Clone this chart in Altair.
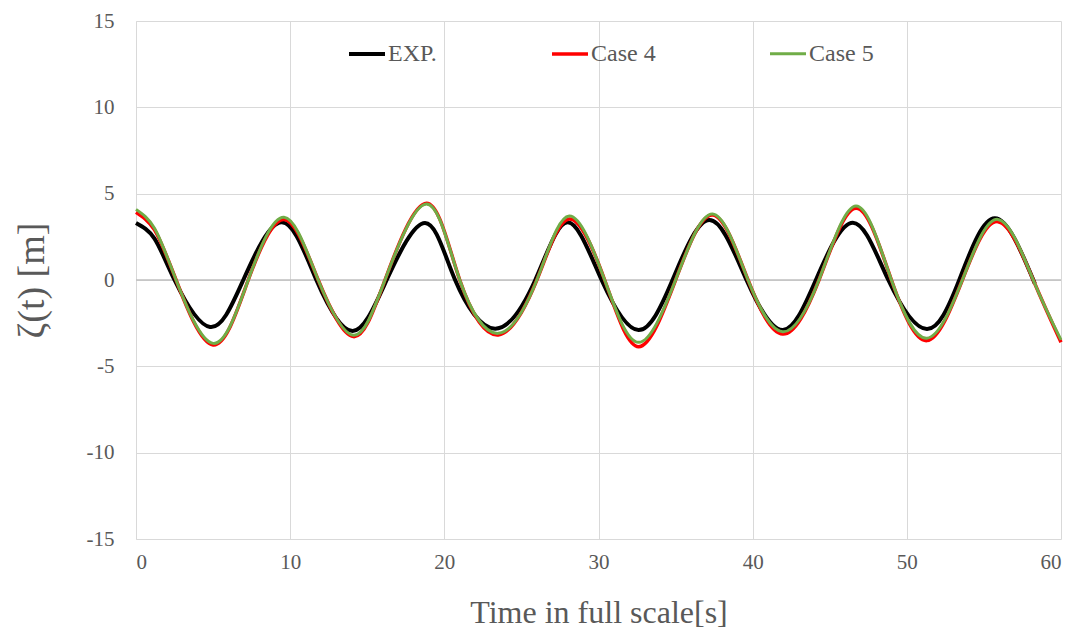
import altair as alt
import pandas as pd

# EXP. (black)
exp_t = [0, 1.2, 2.5, 4.8, 6.96, 9.45, 11.7, 14.05, 16.26, 18.75, 20.7, 23.3, 25.9, 28.0, 30.2,
         32.6, 34.8, 37.2, 39.6, 41.95, 44.1, 46.5, 48.8, 51.3, 53.4, 55.7, 58.3]
exp_v = [3.3, 2.4, 0, -2.72, 0, 3.34, 0, -2.95, 0, 3.3, 0, -2.82, 0, 3.34, 0,
         -2.9, 0, 3.47, 0, -2.9, 0, 3.32, 0, -2.84, 0, 3.57, -0.2]

# Case 4 (red)
c4_t = [0, 1.2, 2.6, 5.0, 7.28, 9.6, 11.82, 14.1, 16.15, 18.85, 21.0, 23.5, 26.0, 28.1, 30.4,
        32.6, 35.0, 37.4, 39.7, 41.95, 44.3, 46.7, 49.0, 51.3, 53.6, 55.9, 58.2, 60]
c4_v = [3.92, 2.9, 0, -3.76, 0, 3.5, 0, -3.28, 0, 4.44, 0, -3.18, 0, 3.53, 0,
        -3.86, 0, 3.76, 0, -3.13, 0, 4.15, 0, -3.51, 0, 3.38, 0, -3.6]

# Case 5 (green)
c5_t = [0, 1.2, 2.6, 5.0, 7.28, 9.6, 11.82, 14.1, 16.15, 18.85, 21.0, 23.5, 26.0, 28.1, 30.4,
        32.6, 35.0, 37.4, 39.7, 41.95, 44.3, 46.7, 49.0, 51.3, 53.6, 55.9, 58.2, 60]
c5_v = [4.09, 3.0, 0, -3.67, 0, 3.63, 0, -3.2, 0, 4.4, 0, -3.09, 0, 3.7, 0,
        -3.61, 0, 3.82, 0, -3.0, 0, 4.29, 0, -3.37, 0, 3.51, 0, -3.47]

series = ["EXP.", "Case 4", "Case 5"]
colors = ["#000000", "#ff0000", "#70ad47"]
widths = [4, 3, 3.5]

rows = []
for name, ts, vs in zip(series, [exp_t, c4_t, c5_t], [exp_v, c4_v, c5_v]):
    for t, v in zip(ts, vs):
        rows.append({"t": t, "v": v, "series": name})
df = pd.DataFrame(rows)

FONT = "Liberation Serif"
GREY = "#595959"

x = alt.X("t:Q", scale=alt.Scale(domain=[0, 60], nice=False),
          axis=alt.Axis(values=[0, 10, 20, 30, 40, 50, 60], title="Time in full scale[s]",
                        grid=True, gridColor="#d9d9d9", ticks=False, domain=False,
                        labelFont=FONT, labelFontSize=21, labelColor=GREY, labelPadding=12,
                        titleFont=FONT, titleFontSize=32, titleColor=GREY, titleFontWeight="normal",
                        titleY=73, titleBaseline="middle"))
y = alt.Y("v:Q", scale=alt.Scale(domain=[-15, 15], nice=False),
          axis=alt.Axis(values=[-15, -10, -5, 0, 5, 10, 15], title="ζ(t) [m]",
                        labelExpr="'' + datum.value",
                        grid=True, gridColor="#d9d9d9", ticks=False, domain=True, domainColor="#d9d9d9",
                        labelFont=FONT, labelFontSize=21, labelColor=GREY, labelPadding=22,
                        titleFont=FONT, titleFontSize=38, titleColor=GREY, titleFontWeight="normal",
                        titleX=-104, titleY=259, titleAngle=270, titleAlign="center",
                        titleBaseline="middle"))

zero = alt.Chart(pd.DataFrame({"z": [0]})).mark_rule(color="#bfbfbf", strokeWidth=1.5).encode(y="z:Q")

lines = alt.Chart(df).mark_line(interpolate="natural").encode(
    x=x, y=y,
    color=alt.Color("series:N", scale=alt.Scale(domain=series, range=colors),
                    legend=alt.Legend(title=None, orient="none", legendX=211, legendY=13,
                                      direction="horizontal", columns=3, columnPadding=108,
                                      symbolType="stroke", symbolSize=1296, symbolStrokeWidth=4,
                                      labelFont=FONT, labelFontSize=24, labelColor=GREY,
                                      labelOffset=1)),
    strokeWidth=alt.StrokeWidth("series:N", scale=alt.Scale(domain=series, range=widths), legend=None),
    order=alt.Order("t:Q"),
)

chart = alt.layer(zero, lines).properties(
    width=925, height=518,
    autosize=alt.AutoSizeParams(type="none"),
    padding={"left": 128, "top": 13, "right": 10, "bottom": 95},
).configure_view(stroke=None)

chart.save("out.html", embed_options={"renderer": "svg", "actions": False})
